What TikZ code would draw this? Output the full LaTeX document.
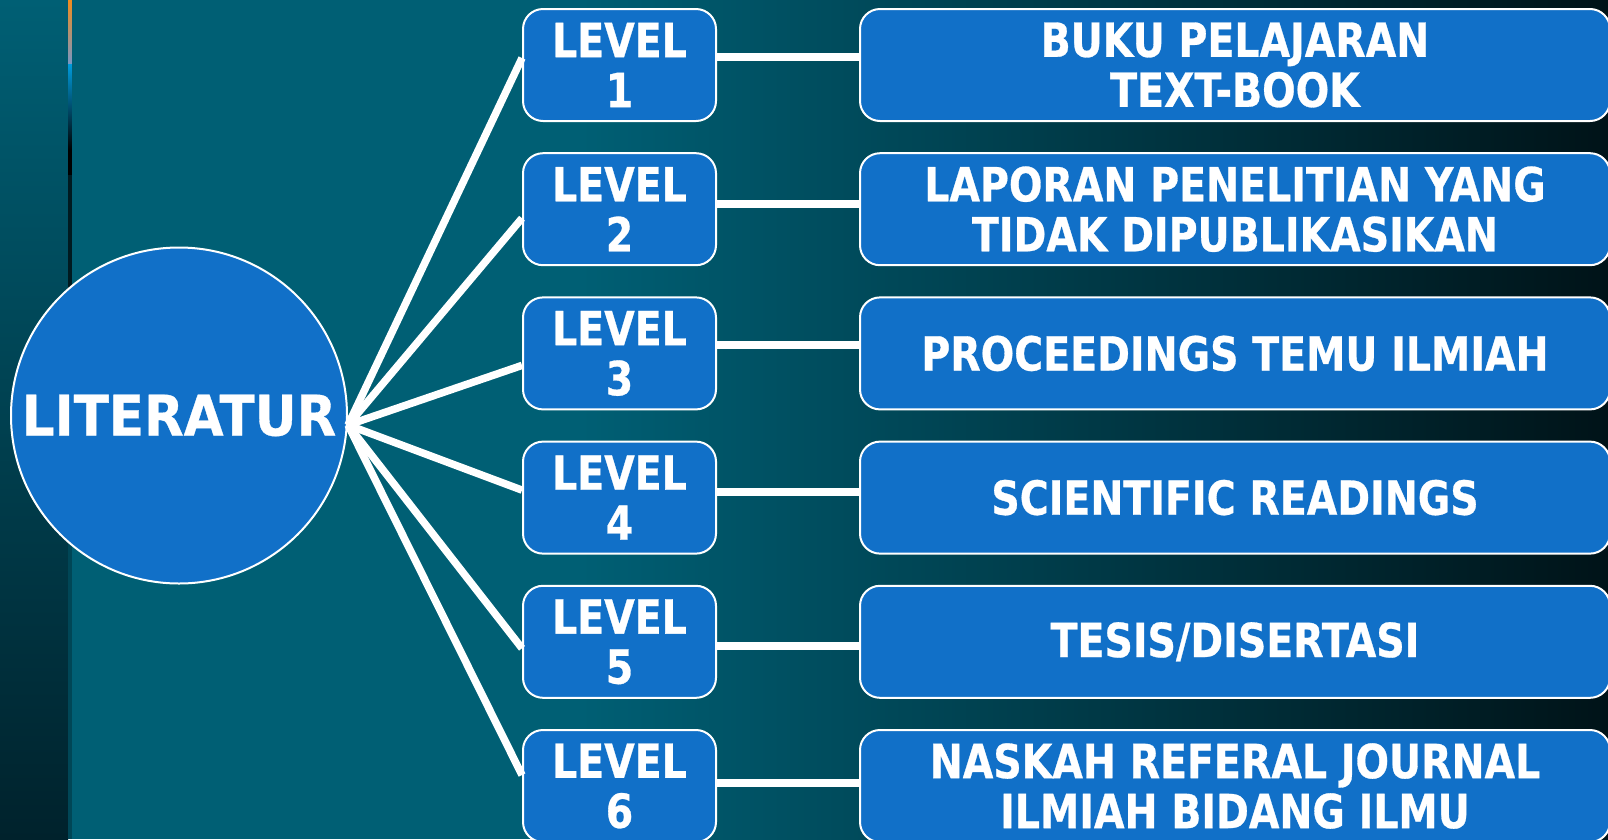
\documentclass[tikz,border=0pt]{standalone}
\usepackage{fontspec}
\setmainfont{DejaVu Sans}[FakeStretch=0.84, BoldFeatures={FakeBold=0.6}]
\newfontfamily\litfont{DejaVu Sans}[FakeStretch=0.92, BoldFeatures={FakeBold=0.6}]
\usepackage{tikz}
\usetikzlibrary{positioning}
\definecolor{bgteal}{RGB}{0,95,116}
\definecolor{bgdark}{RGB}{0,19,24}
\definecolor{stripdark}{RGB}{0,34,44}
\definecolor{boxblue}{RGB}{17,112,200}
\definecolor{barorange}{RGB}{240,140,30}
\definecolor{bargrey}{RGB}{120,150,195}
\definecolor{barblue}{RGB}{0,155,220}
\definecolor{barmid}{RGB}{0,26,32}
\definecolor{barbot}{RGB}{0,70,86}
\tikzstyle{every node}+=[inner sep=0pt]
\tikzstyle{lvbox} = [rectangle, draw=white, line width=2pt, fill=boxblue, text=white, font=\bfseries\fontsize{47}{50}\selectfont, align=center, rounded corners=20pt, minimum height=112pt, minimum width=193pt]
\tikzstyle{refbox} = [lvbox, minimum width=750pt]
\tikzstyle{hubcircle} = [circle, draw=white, line width=2pt, fill=boxblue, text=white, font=\litfont\bfseries\fontsize{56}{60}\selectfont, minimum size=336pt]
\tikzstyle{line} = [draw, white, line width=7.5pt]
\tikzstyle{link} = [draw, white, line width=8pt]

\begin{document}
\begin{tikzpicture}[x=1pt, y=-1pt, node distance=144.2pt]
            % Background
            \clip (0,0) rectangle (1608,839);
            \useasboundingbox (0,0) rectangle (1608,839);
            \shade [top color=bgteal, bottom color=stripdark] (0,0) rectangle (68,839);
            \shade [top color=barorange, bottom color=bargrey] (68,0) rectangle (72,64);
            \shade [top color=barblue, bottom color=black] (68,64) rectangle (72,150);
            \fill [black] (68,150) rectangle (72,175);
            \fill [barmid] (68,175) rectangle (72,300);
            \fill [barbot] (68,300) rectangle (72,839);
            \fill [bgteal] (72,0) rectangle (580,839);
            \shade [left color=bgteal, right color=bgdark] (580,0) rectangle (1608,839);
            % Place nodes
            \node [hubcircle] (lit) at (179,415.5) {LITERATUR};
            \coordinate [below=9.5pt of lit.east] (hub);
            \node [lvbox] (lv1) at (619.5,65) {LEVEL\\1};
            \node [lvbox, below of=lv1] (lv2) {LEVEL\\2};
            \node [lvbox, below of=lv2] (lv3) {LEVEL\\3};
            \node [lvbox, below of=lv3] (lv4) {LEVEL\\4};
            \node [lvbox, below of=lv4] (lv5) {LEVEL\\5};
            \node [lvbox, below of=lv5] (lv6) {LEVEL\\6};
            \node [refbox, right of=lv1, node distance=615.5pt] (ref1) {BUKU PELAJARAN\\TEXT-BOOK};
            \node [refbox, right of=lv2, node distance=615.5pt] (ref2) {LAPORAN PENELITIAN YANG\\TIDAK DIPUBLIKASIKAN};
            \node [refbox, right of=lv3, node distance=615.5pt] (ref3) {PROCEEDINGS TEMU ILMIAH};
            \node [refbox, right of=lv4, node distance=615.5pt] (ref4) {SCIENTIFIC READINGS};
            \node [refbox, right of=lv5, node distance=615.5pt] (ref5) {TESIS/DISERTASI};
            \node [refbox, right of=lv6, node distance=615.5pt] (ref6) {NASKAH REFERAL JOURNAL\\ILMIAH BIDANG ILMU};
            % Draw edges
            \path [line] (hub) -- ([yshift=7pt]lv1.west);
            \path [line] (hub) -- ([yshift=-9pt]lv2.west);
            \path [line] (hub) -- ([yshift=-12pt]lv3.west);
            \path [line] (hub) -- ([yshift=7.5pt]lv4.west);
            \path [line] (hub) -- ([yshift=-6.5pt]lv5.west);
            \path [line] (hub) -- ([yshift=11pt]lv6.west);
            \path [link] ([yshift=7.7pt]lv1.east) -- ([yshift=7.7pt]ref1.west);
            \path [link] ([yshift=5pt]lv2.east) -- ([yshift=5pt]ref2.west);
            \path [link] ([yshift=8.4pt]lv3.east) -- ([yshift=8.4pt]ref3.west);
            \path [link] ([yshift=5.6pt]lv4.east) -- ([yshift=5.6pt]ref4.west);
            \path [link] ([yshift=-4pt]lv5.east) -- ([yshift=-4pt]ref5.west);
            \path [link] ([yshift=3pt]lv6.east) -- ([yshift=3pt]ref6.west);
\end{tikzpicture}
\end{document}
